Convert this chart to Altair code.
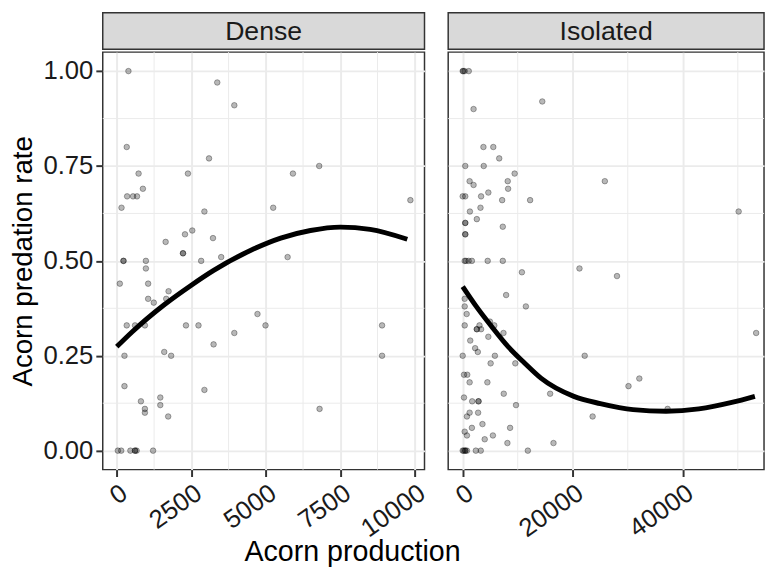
import altair as alt
import pandas as pd

FONT = "Liberation Sans"

panels = ["Dense", "Isolated"]

# ---- Dense panel: observed points ----
dense_x = [388, 3370, 3943, 331, 3094, 729, 2386, 874, 344, 543, 676, 156, 2939, 2531, 2287,
           3227, 1637, 2220, 2220, 2830, 3502, 222, 222, 974, 974, 99, 1050, 1736, 1050, 1239,
           1657, 4720, 331, 610, 941, 2320, 2740, 4990, 3943, 3247, 255, 1590, 1822, 255, 2939,
           1458, 808, 1458, 941, 941, 1723, 33, 146, 454, 610, 610, 663, 1216, 5911, 6793, 5248,
           9854, 5732, 8903, 8903, 6805]
dense_y = [1.00, 0.97, 0.91, 0.80, 0.77, 0.73, 0.73, 0.69, 0.67, 0.67, 0.67, 0.64, 0.63, 0.58, 0.57,
           0.56, 0.55, 0.52, 0.52, 0.50, 0.51, 0.50, 0.50, 0.50, 0.48, 0.44, 0.44, 0.42, 0.40, 0.39,
           0.40, 0.36, 0.33, 0.33, 0.33, 0.33, 0.33, 0.33, 0.31, 0.28, 0.25, 0.26, 0.25, 0.17, 0.16,
           0.14, 0.13, 0.12, 0.11, 0.10, 0.09, 0.00, 0.00, 0.00, 0.00, 0.00, 0.00, 0.00, 0.73, 0.75, 0.64,
           0.66, 0.51, 0.33, 0.25, 0.11]

# ---- Isolated panel: observed points ----
iso_x = [0, 100, 360, 1100, 1973, 14460, 3767, 5561, 6637, 466, 3820, 9440, 1256, 8180, 25830,
         1973, 8250, 4660, 0, 466, 3340, 7170, 12250, 3230, 1310, 2565, 466, 466, 7285, 466, 466,
         360, 590, 1076, 1670, 4540, 7285, 10760, 21220, 28040, 7890, 11480, 360, 360, 720,
         360, 3050, 4950, 5740, 2565, 2565, 3340, 7410, 53330, 4660, 1370, 2260, 2745,
         0, 5850, 22170, 5076, 9560, 233, 825, 1256, 4484, 32100, 7460, 15890, 30130,
         233, 1720, 2870, 2870, 9690, 37240, 1256, 2800, 771, 23610, 3590, 1670, 8610,
         360, 771, 5490, 4000, 8125, 16500, 0, 180, 466, 466, 771, 2386, 3283, 11840, 50150]
iso_y = [1.00, 1.00, 1.00, 1.00, 0.90, 0.92, 0.80, 0.80, 0.77, 0.75, 0.75, 0.73, 0.71, 0.71, 0.71,
         0.70, 0.69, 0.68, 0.67, 0.67, 0.67, 0.66, 0.66, 0.64, 0.63, 0.61, 0.60, 0.60, 0.59, 0.57, 0.57,
         0.50, 0.50, 0.50, 0.50, 0.50, 0.50, 0.47, 0.48, 0.46, 0.41, 0.38, 0.40, 0.38, 0.36,
         0.33, 0.33, 0.34, 0.33, 0.32, 0.32, 0.32, 0.31, 0.31, 0.30, 0.29, 0.27, 0.26,
         0.25, 0.25, 0.25, 0.23, 0.23, 0.20, 0.20, 0.18, 0.18, 0.19, 0.15, 0.15, 0.17,
         0.14, 0.13, 0.13, 0.13, 0.12, 0.11, 0.10, 0.10, 0.09, 0.09, 0.07, 0.06, 0.06,
         0.05, 0.04, 0.04, 0.03, 0.02, 0.02, 0.00, 0.00, 0.00, 0.00, 0.00, 0.00, 0.00, 0.00, 0.63]

# ---- fitted curves ----
dense_fit_x = [0, 500, 1600, 2500, 3250, 4500, 5500, 6500, 7500, 8500, 9750]
dense_fit_y = [0.274, 0.312, 0.385, 0.436, 0.475, 0.528, 0.560, 0.580, 0.589, 0.583, 0.557]
iso_fit_x = [0, 2260, 5256, 8250, 11230, 14220, 20200, 25000, 30960, 36950, 42920, 48900, 53100]
iso_fit_y = [0.432, 0.384, 0.327, 0.274, 0.231, 0.191, 0.143, 0.124, 0.108, 0.104, 0.110, 0.127, 0.143]

# ---- ticks ----
dense_ticks = [0, 2500, 5000, 7500, 10000]
iso_ticks = [0, 20000, 40000]
y_ticks = [0.0, 0.25, 0.5, 0.75, 1.0]
dense_minor = [1250, 3750, 6250, 8750]
iso_minor = [10000, 30000, 50000]
y_minor = [0.125, 0.375, 0.625, 0.875]

GRID = "#ebebeb"
PANEL_H = 423
STRIP_H = 37
TICK_FS = 26


def panel(px, py, fx, fy, ticks, minor, domain, width, show_y):
    xs = alt.Scale(domain=domain, nice=False, zero=False)
    ys = alt.Scale(domain=[-0.05, 1.05], nice=False, zero=False)
    xaxis = alt.Axis(values=ticks, format="d", labelAngle=325, labelAlign="right",
                     labelBaseline="top", title=None, grid=True, gridColor=GRID, gridWidth=2,
                     domain=False, tickColor="#333333", tickWidth=2, tickSize=7,
                     labelFont=FONT, labelFontSize=TICK_FS, labelColor="#1a1a1a", labelPadding=3,
                     labelOverlap=False, labelFlush=False)
    if show_y:
        yaxis = alt.Axis(values=y_ticks, format=".2f", title="Acorn predation rate",
                         grid=True, gridColor=GRID, gridWidth=2, domain=False,
                         tickColor="#333333", tickWidth=2, tickSize=7,
                         labelFont=FONT, labelFontSize=TICK_FS, labelColor="#1a1a1a", labelPadding=3,
                         titleFont=FONT, titleFontSize=28, titleFontWeight="normal",
                         titleColor="#000000", titlePadding=6, labelOverlap=False)
    else:
        yaxis = alt.Axis(values=y_ticks, title=None, labels=False, ticks=False, domain=False,
                         grid=True, gridColor=GRID, gridWidth=2)
    vmin = alt.Chart(pd.DataFrame({"x": minor})).mark_rule(color=GRID, strokeWidth=1).encode(
        x=alt.X("x:Q", scale=xs, axis=xaxis))
    hmin = alt.Chart(pd.DataFrame({"y": y_minor})).mark_rule(color=GRID, strokeWidth=1).encode(
        y=alt.Y("y:Q", scale=ys, axis=yaxis))
    pts = alt.Chart(pd.DataFrame({"x": px, "y": py})).mark_circle(
        color="black", fillOpacity=0.28, stroke="black", strokeOpacity=0.32, strokeWidth=1,
        size=32).encode(x=alt.X("x:Q", scale=xs, axis=xaxis), y=alt.Y("y:Q", scale=ys, axis=yaxis))
    line = alt.Chart(pd.DataFrame({"x": fx, "y": fy})).mark_line(
        color="black", strokeWidth=5, interpolate="monotone").encode(
        x=alt.X("x:Q", scale=xs, axis=xaxis), y=alt.Y("y:Q", scale=ys, axis=yaxis))
    return alt.layer(vmin, hmin, pts, line).properties(width=width, height=PANEL_H)


def strip(name, width):
    return alt.Chart(pd.DataFrame({"label": [name]})).mark_text(
        font=FONT, fontSize=27, color="#1a1a1a", baseline="middle", align="center").encode(
        text="label:N", x=alt.value(width / 2), y=alt.value(STRIP_H / 2 + 1)).properties(
        width=width, height=STRIP_H,
        view=alt.ViewBackground(fill="#d9d9d9", stroke="#333333", strokeWidth=1.5))


W_D, W_I = 326, 320
left = alt.vconcat(strip(panels[0], W_D),
                   panel(dense_x, dense_y, dense_fit_x, dense_fit_y, dense_ticks, dense_minor,
                         [-474, 10328], W_D, True), spacing=0)
right = alt.vconcat(strip(panels[1], W_I),
                    panel(iso_x, iso_y, iso_fit_x, iso_fit_y, iso_ticks, iso_minor,
                          [-2637, 54762], W_I, False), spacing=0)

chart = alt.hconcat(left, right, spacing=16).properties(
    padding={"left": 0, "top": 0, "right": 0, "bottom": 0},
    title=alt.TitleParams("Acorn production", orient="bottom", anchor="middle", font=FONT,
                          fontSize=29, fontWeight="normal", color="#000000", offset=-4, dx=-35),
).configure(padding={"left": 0, "top": 0, "right": 0, "bottom": 0}
).configure_view(stroke="#333333", strokeWidth=1.5)

chart.save("out.html", embed_options={"renderer": "svg", "actions": False})
